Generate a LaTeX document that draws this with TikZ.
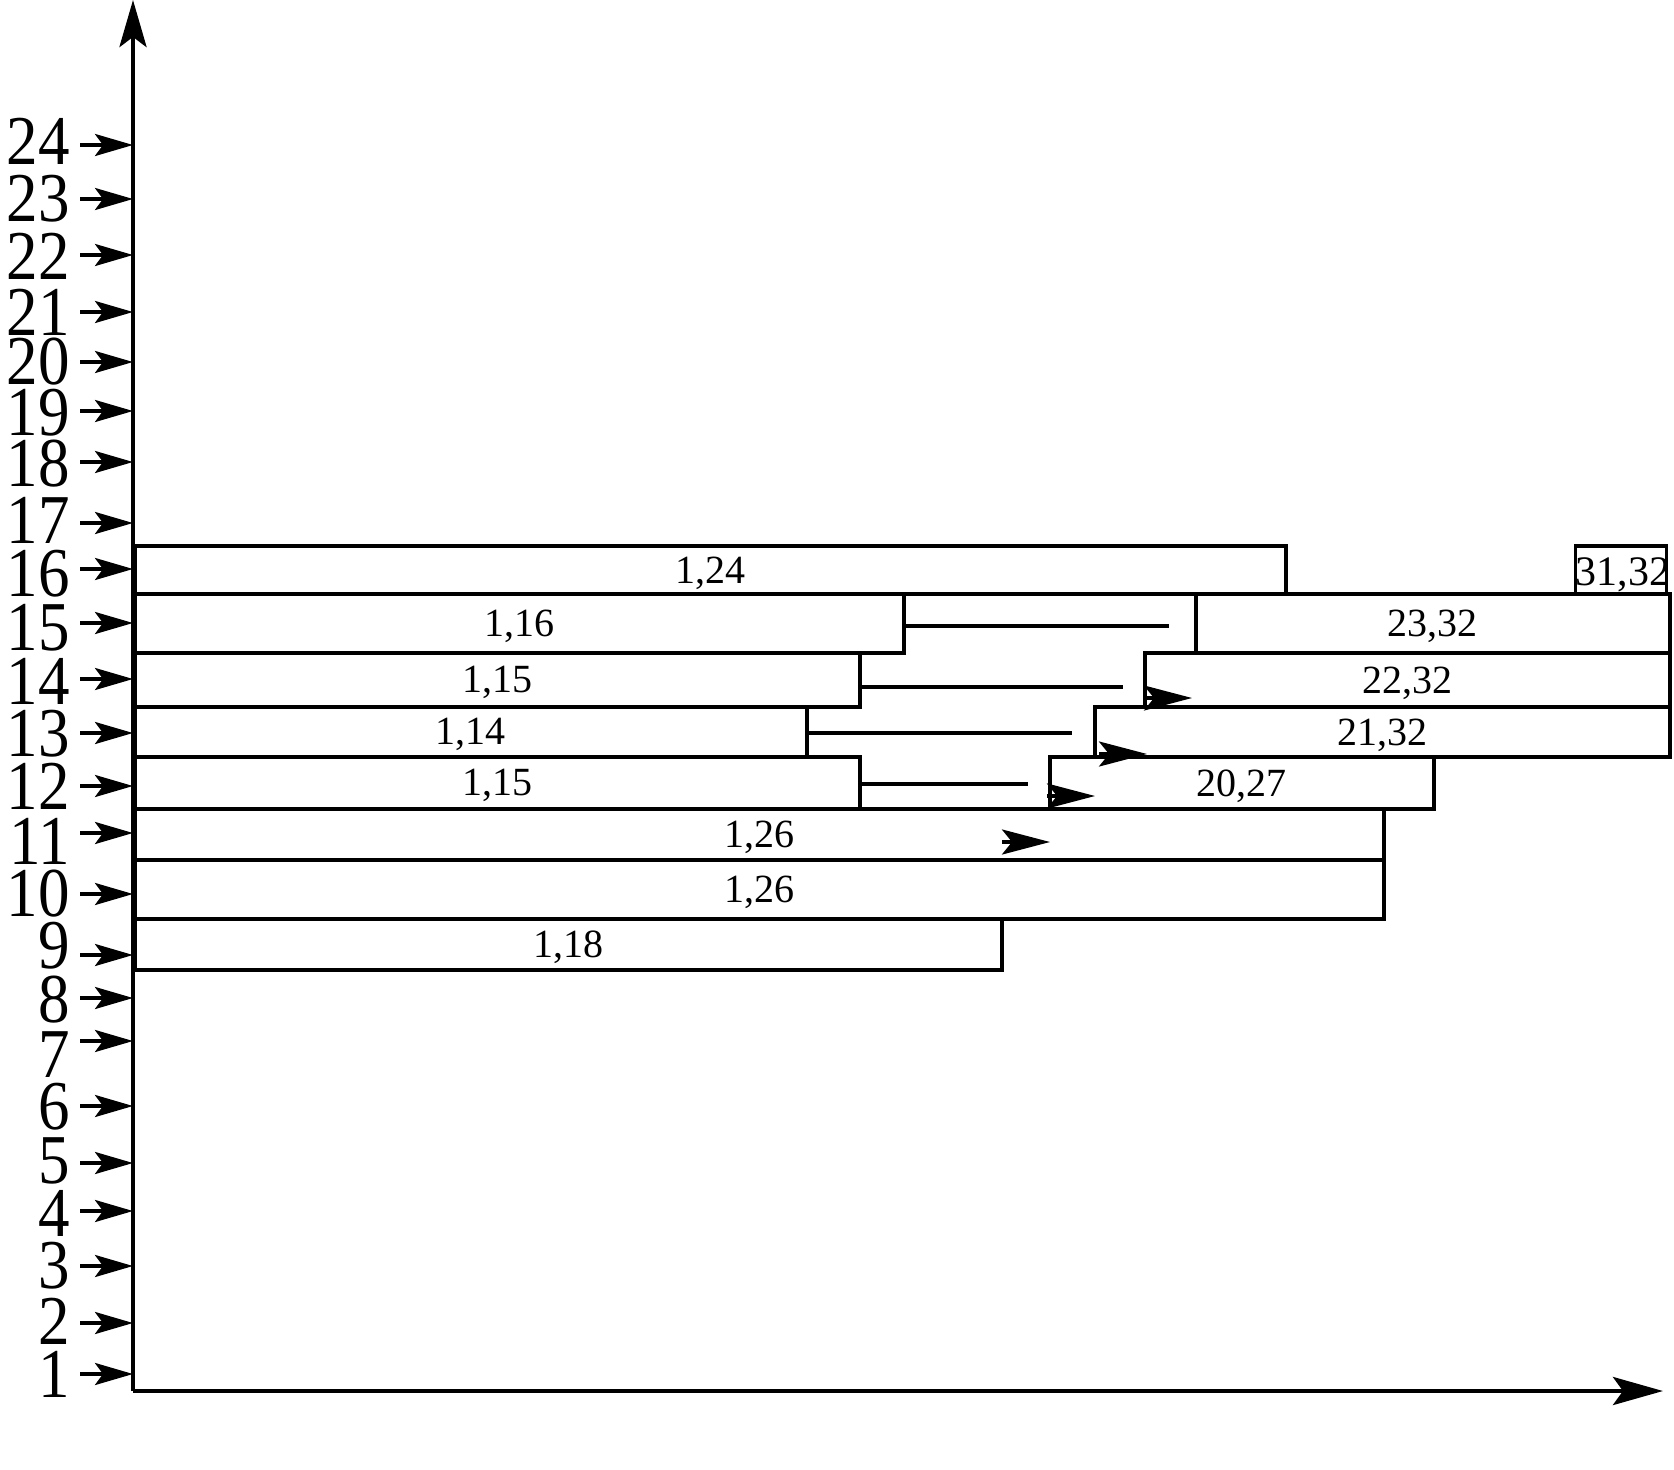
\documentclass[tikz,border=0pt]{standalone}
\usepackage{fontspec}
\setmainfont{Liberation Serif}
\usetikzlibrary{arrows.meta}
\begin{document}
\begin{tikzpicture}[x=1pt,y=-1pt,
  axis/.style={line width=4.5pt},
  tickarrow/.style={line width=3.5pt,-{Stealth[length=38pt,width=22pt,inset=8pt]}},
  ticklbl/.style={anchor=east,inner sep=0pt,xscale=0.9,font=\fontsize{70}{70}\selectfont},
  bar/.style={draw,line width=3.5pt,anchor=north west,inner sep=0pt,text depth=0pt,font=\fontsize{40}{40}\selectfont},
  conn/.style={line width=3.5pt},
  loose/.style={line width=3.5pt,-{Stealth[length=48pt,width=25pt,inset=10pt]}}]
\useasboundingbox (0,0) rectangle (1674,1470);
% axes
\coordinate (O) at (133,1391);
\coordinate (Ytop) at (133,0);
\coordinate (Xend) at (1663,1391);
\draw[axis,-{Stealth[length=47pt,width=27pt,inset=10pt]}] (O) -- (Ytop);
\draw[axis,-{Stealth[length=50pt,width=28pt,inset=10pt]}] (O) -- (Xend);
% tick labels and arrows
\foreach \n/\yy/\ly in {24/145/141,23/199/199,22/255/256,21/312/312,20/362/362,19/411/413,18/462/464,17/523/520,16/569/574,15/623/628,14/679/681,13/733/734,12/786/786,11/833/841,10/894/894,9/955/946,8/998/1000,7/1041/1055,6/1106/1107,5/1163/1161,4/1211/1213,3/1266/1266,2/1323/1321,1/1374/1374}{
  \node[ticklbl] (l\n) at (70,\ly) {\n};
  \coordinate (t\n) at (133,\yy);
  \draw[tickarrow] ([xshift=10pt]l\n.east |- t\n) -- (t\n);
}
% bars
\node[bar,minimum width=1151pt,minimum height=48pt] (b16a) at (133,544) {1,24};
\node[bar,minimum width=91pt,minimum height=48pt,anchor=north east] (b16b) at (1668,544) {};
\node[inner sep=0pt,anchor=base,font=\fontsize{42}{42}\selectfont] (t16b) at (1623,585) {31,32};
\node[bar,minimum width=769pt,minimum height=59pt] (b15a) at (133,592) {1,16};
\node[bar,minimum width=474pt,minimum height=59pt] (b15b) at (1194,592) {23,32};
\node[bar,minimum width=725pt,minimum height=54pt] (b14a) at (133,651) {1,15};
\node[bar,minimum width=525pt,minimum height=54pt] (b14b) at (1143,651) {22,32};
\node[bar,minimum width=672pt,minimum height=50pt] (b13a) at (133,705) {1,14};
\node[bar,minimum width=575pt,minimum height=50pt] (b13b) at (1093,705) {21,32};
\node[bar,minimum width=725pt,minimum height=52pt] (b12a) at (133,755) {1,15};
\node[bar,minimum width=384pt,minimum height=52pt] (b12b) at (1048,755) {20,27};
\node[bar,minimum width=1249pt,minimum height=51pt] (b11) at (133,807) {1,26};
\node[bar,minimum width=1249pt,minimum height=59pt] (b10) at (133,858) {1,26};
\node[bar,minimum width=867pt,minimum height=51pt] (b9) at (133,917) {1,18};
% connector lines
\coordinate (e15) at (1169,626);
\coordinate (e14) at (1123,687);
\coordinate (e13) at (1072,733);
\coordinate (e12) at (1028,784);
\draw[conn] (b15a.east |- e15) -- (e15);
\draw[conn] (b14a.east |- e14) -- (e14);
\draw[conn] (b13a.east |- e13) -- (e13);
\draw[conn] (b12a.east |- e12) -- (e12);
% loose arrowheads
\coordinate (s14) at (1144,698); \coordinate (h14) at (1192,698);
\coordinate (s13) at (1099,754); \coordinate (h13) at (1147,754);
\coordinate (s12) at (1047,796); \coordinate (h12) at (1095,796);
\coordinate (s11) at (1002,842); \coordinate (h11) at (1050,842);
\draw[loose] (s14) -- (h14);
\draw[loose] (s13) -- (h13);
\draw[loose] (s12) -- (h12);
\draw[loose] (s11) -- (h11);
\end{tikzpicture}
\end{document}
